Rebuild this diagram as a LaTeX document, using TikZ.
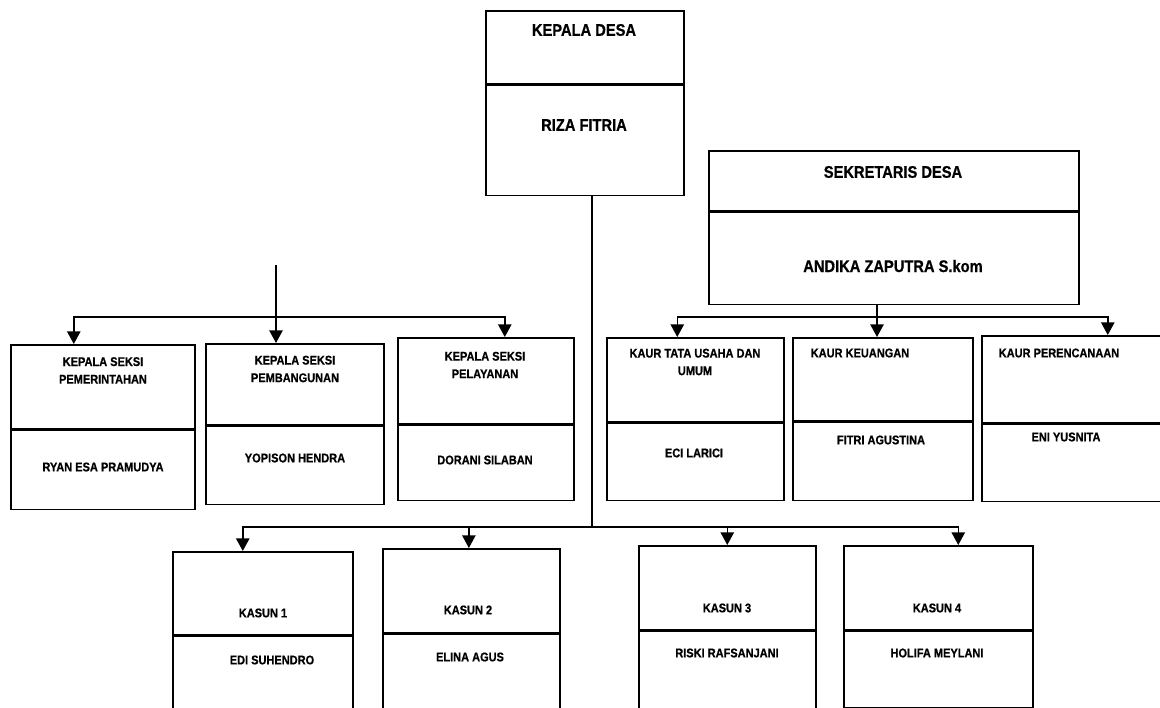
\documentclass[tikz,border=0pt]{standalone}
\usepackage{fontspec}
\setmainfont{Liberation Sans}[FakeStretch=0.87, BoldFeatures={FakeBold=0.7}]
\usepackage{tikz}
\usetikzlibrary{arrows.meta,positioning}
\tikzset{
  ogpart/.style={draw=black, line width=1.1pt, rectangle, inner sep=0pt,
    anchor=north west},
  ogbig/.style={font=\bfseries\fontsize{12}{14}\selectfont, align=center,
    inner sep=0pt},
  ogtxt/.style={font=\bfseries\fontsize{9}{12.5}\selectfont, align=center,
    inner sep=0pt},
  ogline/.style={line width=1.1pt, draw=black},
  ogarrow/.style={-{Triangle[width=9.5pt,length=9pt]}, line width=1.1pt, draw=black}
}

\begin{document}
\begin{tikzpicture}
  \useasboundingbox (0cm,0cm) rectangle (29cm,-17.7cm);
  % kepala desa and sekretaris
  \node[ogpart, minimum width=4.95cm, minimum height=1.825cm] (kdH) at (12.125cm,-0.25cm) {};
  \node[ogpart, minimum width=4.95cm, minimum height=2.75cm] (kdN) at (kdH.south west) {};
  \node[ogpart, minimum width=9.25cm, minimum height=1.5cm] (sdH) at (17.70cm,-3.75cm) {};
  \node[ogpart, minimum width=9.25cm, minimum height=2.3cm] (sdN) at (sdH.south west) {};
  \node[ogbig] (kdHt) at (14.60cm,-0.75cm) {KEPALA DESA};
  \node[ogbig] (kdNt) at (14.60cm,-3.125cm) {RIZA FITRIA};
  \node[ogbig] (sdHt) at (22.325cm,-4.30cm) {SEKRETARIS DESA};
  \node[ogbig] (sdNt) at (22.325cm,-6.65cm) {ANDIKA ZAPUTRA S.kom};
  % kepala seksi
  \node[ogpart, minimum width=4.60cm, minimum height=2.10cm] (s1H) at (0.25cm,-8.60cm) {};
  \node[ogpart, minimum width=4.60cm, minimum height=1.975cm] (s1N) at (s1H.south west) {};
  \node[ogpart, minimum width=4.45cm, minimum height=2.025cm] (s2H) at (5.125cm,-8.575cm) {};
  \node[ogpart, minimum width=4.45cm, minimum height=1.95cm] (s2N) at (s2H.south west) {};
  \node[ogpart, minimum width=4.40cm, minimum height=2.15cm] (s3H) at (9.925cm,-8.425cm) {};
  \node[ogpart, minimum width=4.40cm, minimum height=1.875cm] (s3N) at (s3H.south west) {};
  \node[ogtxt] (s1Ht) at (2.575cm,-9.26cm) {KEPALA SEKSI\\PEMERINTAHAN};
  \node[ogtxt] (s1Nt) at (2.575cm,-11.675cm) {RYAN ESA PRAMUDYA};
  \node[ogtxt] (s2Ht) at (7.375cm,-9.225cm) {KEPALA SEKSI\\PEMBANGUNAN};
  \node[ogtxt] (s2Nt) at (7.375cm,-11.45cm) {YOPISON HENDRA};
  \node[ogtxt] (s3Ht) at (12.125cm,-9.125cm) {KEPALA SEKSI\\PELAYANAN};
  \node[ogtxt] (s3Nt) at (12.125cm,-11.50cm) {DORANI SILABAN};
  % kaur
  \node[ogpart, minimum width=4.425cm, minimum height=2.10cm] (k1H) at (15.15cm,-8.425cm) {};
  \node[ogpart, minimum width=4.425cm, minimum height=1.925cm] (k1N) at (k1H.south west) {};
  \node[ogpart, minimum width=4.50cm, minimum height=2.075cm] (k2H) at (19.80cm,-8.425cm) {};
  \node[ogpart, minimum width=4.50cm, minimum height=1.95cm] (k2N) at (k2H.south west) {};
  \node[ogpart, minimum width=4.80cm, minimum height=2.175cm] (k3H) at (24.525cm,-8.375cm) {};
  \node[ogpart, minimum width=4.80cm, minimum height=1.925cm] (k3N) at (k3H.south west) {};
  \node[ogtxt] (k1Ht) at (17.375cm,-9.05cm) {KAUR TATA USAHA DAN\\UMUM};
  \node[ogtxt] (k1Nt) at (17.35cm,-11.325cm) {ECI LARICI};
  \node[ogtxt] (k2Ht) at (21.50cm,-8.825cm) {KAUR KEUANGAN};
  \node[ogtxt] (k2Nt) at (22.025cm,-11.00cm) {FITRI AGUSTINA};
  \node[ogtxt] (k3Ht) at (26.475cm,-8.825cm) {KAUR PERENCANAAN};
  \node[ogtxt] (k3Nt) at (26.65cm,-10.925cm) {ENI YUSNITA};
  % kasun
  \node[ogpart, minimum width=4.50cm, minimum height=2.075cm] (u1H) at (4.30cm,-13.775cm) {};
  \node[ogpart, minimum width=4.50cm, minimum height=2.10cm] (u1N) at (u1H.south west) {};
  \node[ogpart, minimum width=4.425cm, minimum height=2.10cm] (u2H) at (9.55cm,-13.70cm) {};
  \node[ogpart, minimum width=4.425cm, minimum height=1.875cm] (u2N) at (u2H.south west) {};
  \node[ogpart, minimum width=4.425cm, minimum height=2.10cm] (u3H) at (15.95cm,-13.625cm) {};
  \node[ogpart, minimum width=4.425cm, minimum height=1.95cm] (u3N) at (u3H.south west) {};
  \node[ogpart, minimum width=4.725cm, minimum height=2.10cm] (u4H) at (21.075cm,-13.625cm) {};
  \node[ogpart, minimum width=4.725cm, minimum height=1.90cm] (u4N) at (u4H.south west) {};
  \node[ogtxt] (u1Ht) at (6.575cm,-15.325cm) {KASUN 1};
  \node[ogtxt] (u1Nt) at (6.80cm,-16.50cm) {EDI SUHENDRO};
  \node[ogtxt] (u2Ht) at (11.70cm,-15.25cm) {KASUN 2};
  \node[ogtxt] (u2Nt) at (11.75cm,-16.425cm) {ELINA AGUS};
  \node[ogtxt] (u3Ht) at (18.175cm,-15.20cm) {KASUN 3};
  \node[ogtxt] (u3Nt) at (18.175cm,-16.325cm) {RISKI RAFSANJANI};
  \node[ogtxt] (u4Ht) at (23.425cm,-15.20cm) {KASUN 4};
  \node[ogtxt] (u4Nt) at (23.425cm,-16.325cm) {HOLIFA MEYLANI};
  % connectors
  \coordinate (kdjoin) at (14.80cm,-13.175cm);
  \coordinate (sktop) at (6.90cm,-6.625cm);
  \coordinate (skjoin) at (6.90cm,-7.925cm);
  \coordinate (sdjoin) at (21.925cm,-7.925cm);
  \draw[ogline] (kdN.south -| kdjoin) -- (kdjoin);
  \draw[ogarrow] (kdjoin) -| ([xshift=-0.5cm]u1H.north);
  \draw[ogarrow] (kdjoin) -| ([xshift=-0.06cm]u2H.north);
  \draw[ogarrow] (kdjoin) -| (u3H.north);
  \draw[ogarrow] (kdjoin) -| ([xshift=0.5cm]u4H.north);
  \draw[ogarrow] (sktop) -- (sktop |- s2H.north);
  \draw[ogarrow] (skjoin) -| ([xshift=-0.725cm]s1H.north);
  \draw[ogarrow] (skjoin) -| ([xshift=0.475cm]s3H.north);
  \draw[ogarrow] (sdN.south -| sdjoin) -- (sdjoin |- k2H.north);
  \draw[ogarrow] (sdjoin) -| ([xshift=-0.45cm]k1H.north);
  \draw[ogarrow] (sdjoin) -| ([xshift=0.75cm]k3H.north);
\end{tikzpicture}
\end{document}
